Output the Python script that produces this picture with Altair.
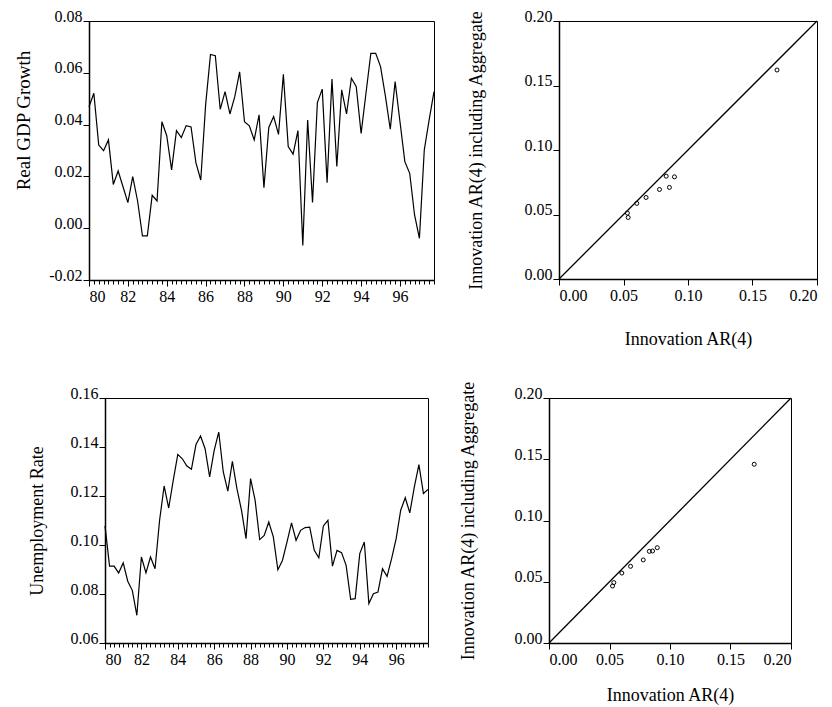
import altair as alt
import pandas as pd

FONT = "Liberation Serif"

# Quarterly series, 1980Q1 .. 1997Q4
first_year = 80
gdp_growth = [0.0469, 0.0521, 0.0321, 0.0299, 0.0341, 0.0169, 0.0221, 0.0160,
              0.0099, 0.0199, 0.0105, -0.0030, -0.0030, 0.0127, 0.0105, 0.0411,
              0.0357, 0.0225, 0.0377, 0.0350, 0.0396, 0.0391, 0.0253, 0.0186,
              0.0476, 0.0671, 0.0666, 0.0459, 0.0527, 0.0441, 0.0508, 0.0604,
              0.0411, 0.0395, 0.0341, 0.0438, 0.0156, 0.0389, 0.0431, 0.0362,
              0.0594, 0.0315, 0.0286, 0.0377, -0.0067, 0.0418, 0.0099, 0.0485,
              0.0537, 0.0176, 0.0576, 0.0238, 0.0534, 0.0441, 0.0579, 0.0546,
              0.0366, 0.0521, 0.0675, 0.0675, 0.0624, 0.0510, 0.0382, 0.0566,
              0.0411, 0.0257, 0.0212, 0.0051, -0.0039, 0.0302, 0.0418, 0.0527]
unemployment = [0.1078, 0.0914, 0.0914, 0.0886, 0.0927, 0.0852, 0.0815, 0.0713,
                0.0951, 0.0886, 0.0951, 0.0903, 0.1101, 0.1241, 0.1151, 0.1264,
                0.1370, 0.1352, 0.1322, 0.1309, 0.1410, 0.1445, 0.1393, 0.1278,
                0.1386, 0.1461, 0.1298, 0.1220, 0.1341, 0.1230, 0.1142, 0.1026,
                0.1271, 0.1182, 0.1022, 0.1039, 0.1094, 0.1033, 0.0899, 0.0937,
                0.1012, 0.1090, 0.1019, 0.1060, 0.1071, 0.1073, 0.0978, 0.0948,
                0.1078, 0.1101, 0.0914, 0.0978, 0.0969, 0.0917, 0.0778, 0.0781,
                0.0965, 0.1012, 0.0761, 0.0801, 0.0808, 0.0903, 0.0872, 0.0944,
                0.1026, 0.1142, 0.1193, 0.1131, 0.1237, 0.1328, 0.1210, 0.1227]
year_labels = [80, 82, 84, 86, 88, 90, 92, 94, 96]
gdp_ticks = [-0.02, 0.00, 0.02, 0.04, 0.06, 0.08]
ur_ticks = [0.06, 0.08, 0.10, 0.12, 0.14, 0.16]

# Scatter: innovation std of AR(4) vs AR(4) including aggregate
ar4_gdp = [0.0530, 0.0536, 0.0603, 0.0675, 0.0779, 0.0831, 0.0856, 0.0895, 0.1690]
agg_gdp = [0.0511, 0.0477, 0.0586, 0.0632, 0.0694, 0.0797, 0.0710, 0.0792, 0.1620]
ar4_ur = [0.0525, 0.0536, 0.0602, 0.0674, 0.0779, 0.0829, 0.0856, 0.0895, 0.1696]
agg_ur = [0.0465, 0.0493, 0.0571, 0.0626, 0.0678, 0.0748, 0.0751, 0.0778, 0.1459]
diag = [0.0, 0.20]
sc_ticks = [0.00, 0.05, 0.10, 0.15, 0.20]

n = len(gdp_growth)
t = [first_year + i / 4 for i in range(n)]
t_end = t[-1]

Y_LABEL = "replace(format(datum.value, '.2f'), '\u2212', '-')"


def line_panel(values, ydom, yticks, ytitle, w, h, ytp, title_extra):
    df = pd.DataFrame({"t": t, "v": values})
    xs = alt.Scale(domain=[first_year, t_end], nice=False, zero=False)
    ys = alt.Scale(domain=ydom, nice=False, zero=False)
    main = alt.Chart(df).mark_line(color="black", strokeWidth=1.2).encode(
        x=alt.X("t:Q", scale=xs,
                axis=alt.Axis(values=year_labels, format="d", tickSize=6,
                              labelPadding=2, title=None, orient="bottom")),
        y=alt.Y("v:Q", scale=ys,
                axis=alt.Axis(values=yticks, labelExpr=Y_LABEL, tickSize=6,
                              labelPadding=1, labelBaseline="alphabetic",
                              title=ytitle, titlePadding=ytp, **title_extra)),
    )
    minor = alt.Chart(df).mark_rule(opacity=0).encode(
        x=alt.X("t:Q", scale=xs,
                axis=alt.Axis(values=t, labels=False, tickSize=4, domain=False,
                              title=None, orient="bottom")),
    )
    return alt.layer(main, minor).resolve_axis(x="independent").properties(width=w, height=h)


def scatter_panel(ar4, agg, w, h, ytp, xtp):
    xs = alt.Scale(domain=[0, 0.2], nice=False, zero=False)
    ys = alt.Scale(domain=[0, 0.2], nice=False, zero=False)
    xenc = alt.X("a:Q", scale=xs,
                 axis=alt.Axis(values=sc_ticks, format=".2f", tickSize=6, labelPadding=2,
                               title="Innovation AR(4)", titlePadding=xtp))
    yenc = alt.Y("g:Q", scale=ys,
                 axis=alt.Axis(values=sc_ticks, format=".2f", tickSize=6, labelPadding=1,
                               labelBaseline="alphabetic",
                               title="Innovation AR(4) including Aggregate", titlePadding=ytp))
    line = alt.Chart(pd.DataFrame({"a": diag, "g": diag})).mark_line(
        color="black", strokeWidth=1.3).encode(x=xenc, y=yenc)
    pts = alt.Chart(pd.DataFrame({"a": ar4, "g": agg})).mark_point(
        shape="circle", filled=False, color="black", size=16, strokeWidth=1, opacity=1
    ).encode(x=xenc, y=yenc)
    return alt.layer(line, pts).properties(width=w, height=h)


def spacer():
    return alt.Chart(pd.DataFrame({"s": [0]})).mark_point(opacity=0, size=1).encode(
        x=alt.value(0), y=alt.value(0)
    ).properties(width=1, height=1, view=alt.ViewBackground(stroke="transparent"))


gdp_chart = line_panel(gdp_growth, [-0.02, 0.08], gdp_ticks, "Real GDP Growth", 345, 259, 15,
                       {"titleY": 99, "titleFontSize": 19})
ur_chart = line_panel(unemployment, [0.06, 0.16], ur_ticks, "Unemployment Rate", 323, 245, 24, {})
sc_top = scatter_panel(ar4_gdp, agg_gdp, 258, 258, 39, 27)
sc_bot = scatter_panel(ar4_ur, agg_ur, 242, 245, 37, 19)

top = alt.hconcat(alt.hconcat(spacer(), gdp_chart, spacing=0), sc_top, spacing=29)
bottom = alt.hconcat(alt.hconcat(spacer(), ur_chart, spacing=13), sc_bot, spacing=27)

chart = alt.vconcat(top, bottom, spacing=30).properties(
    padding={"left": 11, "top": 7, "right": 0, "bottom": 0},
    background="white",
).configure_axis(
    labelFont=FONT, titleFont=FONT, labelFontSize=16, titleFontSize=18,
    titleFontWeight="normal", labelColor="black", titleColor="black",
    domainColor="black", tickColor="black", domainWidth=1.5, tickWidth=1, grid=False,
).configure_view(stroke="black", strokeWidth=1)

chart.save("out.html", embed_options={"renderer": "svg", "actions": False})
